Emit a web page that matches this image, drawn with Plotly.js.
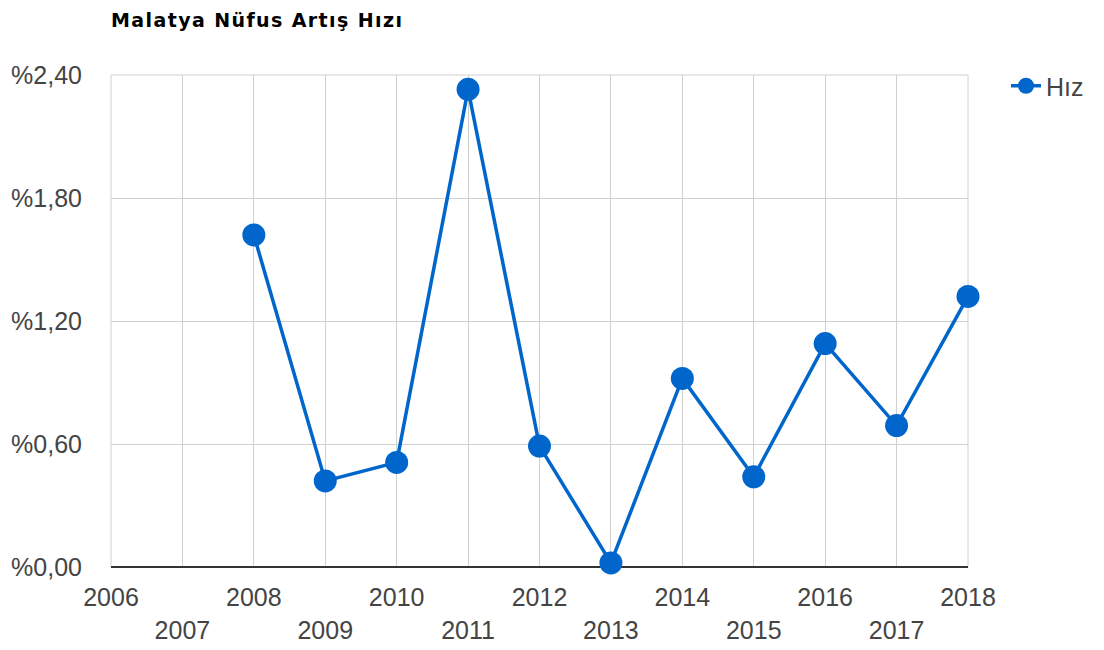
<!DOCTYPE html>
<html>
<head>
<meta charset="utf-8">
<script src="https://cdn.plot.ly/plotly-3.0.1.min.js"></script>
<style>
  html, body { margin: 0; padding: 0; background: #fff; }
  #chart { width: 1104px; height: 650px; }
  .gtitle { letter-spacing: 1.4px; }
</style>
</head>
<body>
<div id="chart"></div>
<script>
const chartTitle = "Malatya Nüfus Artış Hızı";
const seriesName = "Hız";
const years = [2008, 2009, 2010, 2011, 2012, 2013, 2014, 2015, 2016, 2017, 2018];
const hiz = [1.62, 0.42, 0.51, 2.33, 0.59, 0.02, 0.92, 0.44, 1.09, 0.69, 1.32];
const xTickVals = [2006, 2007, 2008, 2009, 2010, 2011, 2012, 2013, 2014, 2015, 2016, 2017, 2018];
const xTickText = ["2006", "<br>2007", "2008", "<br>2009", "2010", "<br>2011", "2012", "<br>2013", "2014", "<br>2015", "2016", "<br>2017", "2018"];
const yTickVals = [0, 0.6, 1.2, 1.8, 2.4];
const yTickText = ["%0,00", "%0,60", "%1,20", "%1,80", "%2,40"];

const gridColor = "#d0d0d0";

const trace = {
  x: years,
  y: hiz,
  name: seriesName,
  type: "scatter",
  mode: "lines+markers",
  line: { color: "#0066cc", width: 3.5 },
  marker: { color: "#0066cc", size: 23 },
  cliponaxis: false,
  showlegend: true
};

const layout = {
  width: 1104,
  height: 650,
  paper_bgcolor: "#ffffff",
  plot_bgcolor: "#ffffff",
  margin: { l: 111, r: 136, t: 75, b: 83 },
  font: { family: "Liberation Sans, Arial, sans-serif", color: "#444444", size: 25 },
  title: {
    text: chartTitle,
    font: { family: "DejaVu Sans, sans-serif", size: 19, weight: "bold", color: "#000000" },
    xref: "container", x: 111 / 1104, xanchor: "left",
    yref: "container", y: 1 - 20 / 650, yanchor: "middle"
  },
  xaxis: {
    range: [2006, 2018],
    tickvals: xTickVals,
    ticktext: xTickText,
    showgrid: true,
    gridcolor: gridColor,
    gridwidth: 1,
    zeroline: false,
    showline: false,
    ticks: "",
    ticklabelstandoff: 13,
    tickfont: { size: 25, color: "#444444" },
    fixedrange: true
  },
  yaxis: {
    range: [0, 2.4],
    tickvals: yTickVals,
    ticktext: yTickText,
    showgrid: true,
    gridcolor: gridColor,
    gridwidth: 1,
    zeroline: true,
    zerolinecolor: "#333333",
    zerolinewidth: 2,
    showline: false,
    ticks: "",
    ticklabelstandoff: 28,
    tickfont: { size: 25, color: "#444444" },
    fixedrange: true
  },
  shapes: [{
    type: "rect", xref: "paper", yref: "paper",
    x0: 0, x1: 1, y0: 0, y1: 1,
    line: { color: gridColor, width: 1 },
    fillcolor: "rgba(0,0,0,0)",
    layer: "below"
  }],
  legend: {
    x: (1006 - 111) / 857, xanchor: "left",
    y: 1 + 12 / 492, yanchor: "top",
    font: { size: 25, color: "#444444" },
    bgcolor: "rgba(0,0,0,0)",
    itemwidth: 30
  },
  showlegend: true,
  hovermode: false
};

Plotly.newPlot("chart", [trace], layout, { displayModeBar: false, staticPlot: true });
</script>
</body>
</html>
